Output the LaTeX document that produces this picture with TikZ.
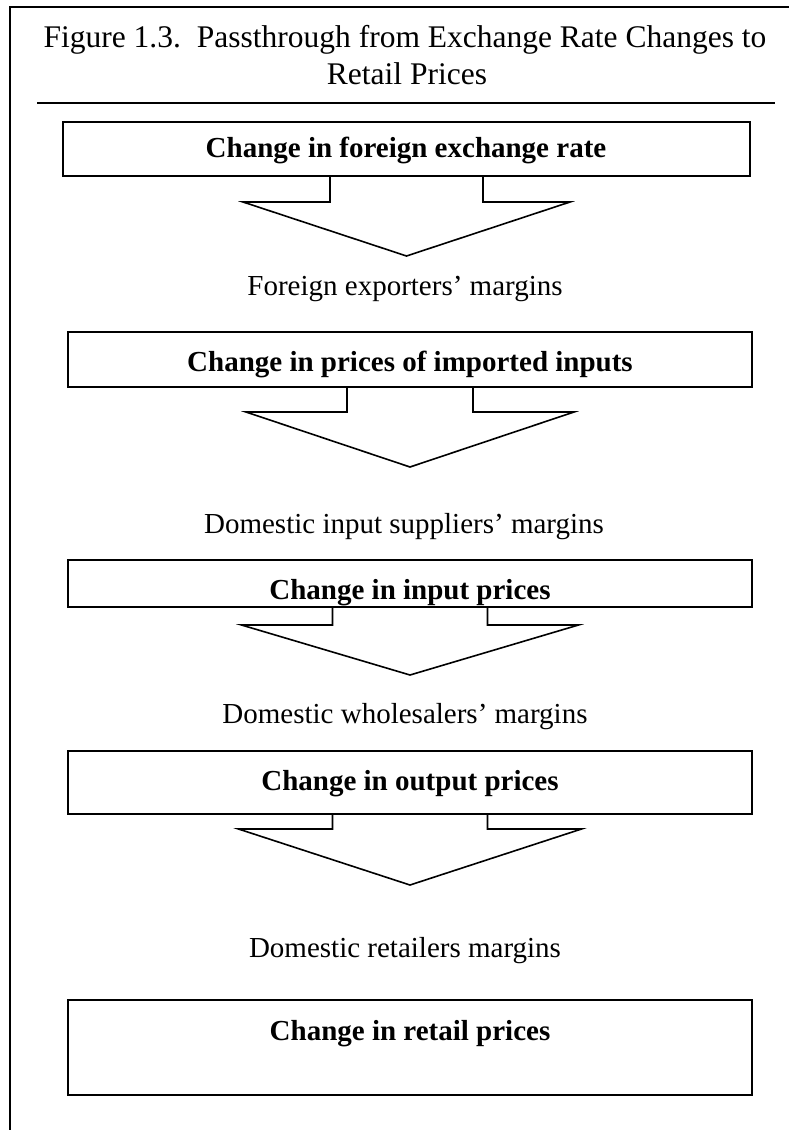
\documentclass[tikz,border=0pt]{standalone}
\usepackage{fontspec}
\setmainfont{Liberation Serif}
\usetikzlibrary{calc}
\newcommand\drawpassarrow[5]{%
  \draw[blockarrow] ($(#1.south)+(-#2,0)$) -- ($(#1.south)+(-#2,#3)$)
    -- ($(#1.south)+(-#4,#3)$) -- ($(#1.south)+(0,#3+#5)$)
    -- ($(#1.south)+(#4,#3)$) -- ($(#1.south)+(#2,#3)$) -- ($(#1.south)+(#2,0)$);}
\begin{document}
\begin{tikzpicture}[x=1pt,y=-1pt,
  frameline/.style={line width=1.9pt},
  stepbox/.style={draw, line width=2pt, inner sep=0pt, outer sep=0pt},
  blockarrow/.style={draw, line width=1.6pt, line join=miter},
  boxtext/.style={font=\fontsize{29}{34}\selectfont\bfseries, anchor=base, inner sep=0pt},
  margintext/.style={font=\fontsize{29}{34}\selectfont, anchor=base, inner sep=0pt},
  titletext/.style={font=\fontsize{31.5}{38}\selectfont, anchor=base, inner sep=0pt}]
\useasboundingbox (0,0) rectangle (789,1130);
% frame
\coordinate (fbl) at (10,1130);
\coordinate (ftl) at (10,7);
\coordinate (ftr) at (789,7);
\draw[frameline] (fbl) -- (ftl) -- (ftr);
% title
\node[titletext] (title1) at (405,47) {Figure 1.3.\hspace{16pt}Passthrough from Exchange Rate Changes to};
\node[titletext] (title2) at (407,84) {Retail Prices};
\coordinate (rl) at (37,103);
\coordinate (rr) at (775,103);
\draw[frameline] (rl) -- (rr);
% boxes
\node[stepbox, minimum width=687pt, minimum height=54pt] (b1) at (406.5,149) {};
\node[stepbox, minimum width=684pt, minimum height=55pt] (b2) at (410,359.5) {};
\node[stepbox, minimum width=684pt, minimum height=47pt] (b3) at (410,583.5) {};
\node[stepbox, minimum width=684pt, minimum height=63pt] (b4) at (410,782.5) {};
\node[stepbox, minimum width=684pt, minimum height=95pt] (b5) at (410,1047.5) {};
% box texts
\node[boxtext] (t1) at (406,157) {Change in foreign exchange rate};
\node[boxtext] (t2) at (410,371) {Change in prices of imported inputs};
\node[boxtext] (t3) at (410,599) {Change in input prices};
\node[boxtext] (t4) at (410,790) {Change in output prices};
\node[boxtext] (t5) at (410,1040) {Change in retail prices};
% margin texts
\node[margintext] (m1) at (405,295) {Foreign exporters’ margins};
\node[margintext] (m2) at (404,533) {Domestic input suppliers’ margins};
\node[margintext] (m3) at (405,723) {Domestic wholesalers’ margins};
\node[margintext] (m4) at (405,957) {Domestic retailers margins};
% block arrows
\drawpassarrow{b1}{76.5}{26}{163.5}{54}
\drawpassarrow{b2}{63}{25}{164}{55}
\drawpassarrow{b3}{77.5}{18}{168.5}{50}
\drawpassarrow{b4}{77.5}{15}{171.5}{56}
\end{tikzpicture}
\end{document}
